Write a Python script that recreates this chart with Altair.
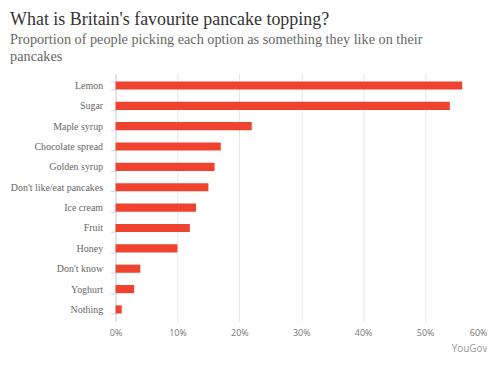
import altair as alt
import pandas as pd

toppings = ["Lemon", "Sugar", "Maple syrup", "Chocolate spread", "Golden syrup",
            "Don't like/eat pancakes", "Ice cream", "Fruit", "Honey", "Don't know",
            "Yoghurt", "Nothing"]
shares = [56, 54, 22, 17, 16, 15, 13, 12, 10, 4, 3, 1]
x_ticks = [0, 10, 20, 30, 40, 50, 60]

df = pd.DataFrame({"topping": toppings, "share": [v / 100 for v in shares]})

chart = alt.Chart(df).mark_bar(color="#f0432f").encode(
    y=alt.Y("topping:N", sort=toppings,
            scale=alt.Scale(paddingInner=0.6, paddingOuter=0.39),
            axis=alt.Axis(title=None, labelFont="Liberation Serif", labelFontSize=10,
                          labelColor="#666666", domainColor="#ccd6eb", tickColor="#ccd6eb",
                          tickSize=5, tickBand="extent", labelPadding=8, grid=False)),
    x=alt.X("share:Q", scale=alt.Scale(domain=[0, 0.6], nice=False),
            axis=alt.Axis(values=[t / 100 for t in x_ticks], format=".0%", title="YouGov",
                          titleFont="Open Sans", titleFontSize=10, titleFontWeight="normal",
                          titleColor="#999999", titleAnchor="end", titleAlign="right",
                          titlePadding=6,
                          labelFont="Open Sans", labelFontSize=9, labelColor="#777777",
                          labelAlign={"condition": {"test": "datum.value >= 0.6", "value": "right"},
                                      "value": "center"},
                          labelPadding=7, domain=False, ticks=False,
                          grid=True, gridColor="#e6e6e6")),
).properties(
    width=373,
    height=249,
    title=alt.TitleParams(
        "What is Britain's favourite pancake topping?",
        subtitle=["Proportion of people picking each option as something they like on their",
                  "pancakes"],
        anchor="start", frame="bounds", font="Liberation Serif", fontSize=18,
        fontWeight="normal", color="#333333", subtitleFont="Liberation Serif",
        subtitleFontSize=14.3, subtitleColor="#666666", subtitlePadding=4,
        subtitleLineHeight=17, offset=4),
    padding={"left": 2, "top": 2, "right": 0, "bottom": 5},
).configure_view(stroke=None)

chart.save("out.html", embed_options={"renderer": "svg", "actions": False})
